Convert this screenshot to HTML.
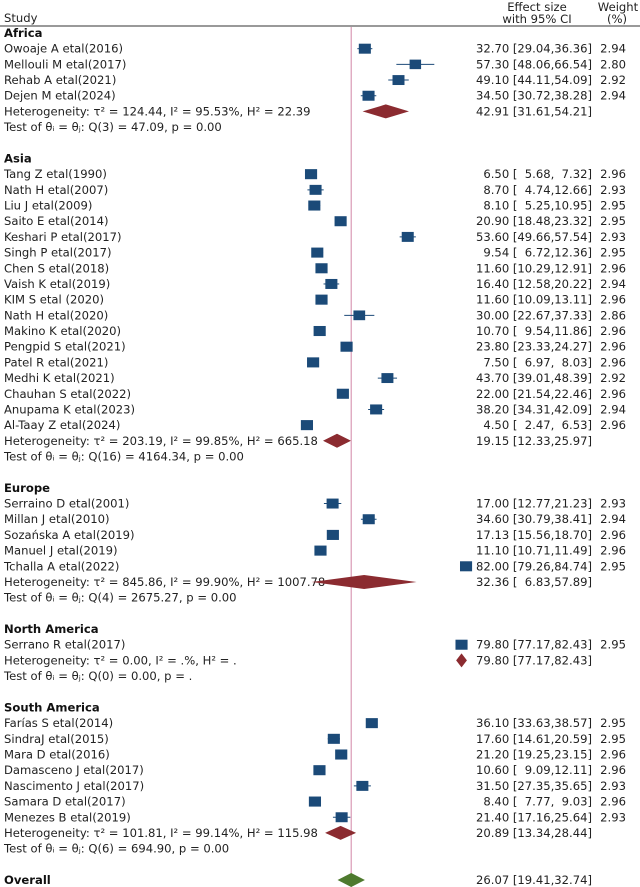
<!DOCTYPE html>
<html><head><meta charset="utf-8">
<style>
html,body{margin:0;padding:0;background:#fff;}
svg{display:block;font-family:"DejaVu Sans","Liberation Sans",sans-serif;font-size:11.6px;}
</style></head>
<body>
<svg id="plot" width="640" height="887" viewBox="0 0 640 887" xmlns="http://www.w3.org/2000/svg">
<text x="4" y="22" fill="#222">Study</text>
<text x="537" y="11" text-anchor="middle" fill="#222">Effect size</text>
<text x="537" y="23" text-anchor="middle" fill="#222">with 95% CI</text>
<text x="618" y="11" text-anchor="middle" fill="#222">Weight</text>
<text x="617" y="23" text-anchor="middle" fill="#222">(%)</text>
<line x1="0" y1="26" x2="640" y2="26" stroke="#333" stroke-width="1"/>
</svg>
<script>
const groupNames = ["Africa","Asia","Europe","North America","South America"];
const studyNames = [
 ["Owoaje A etal(2016)","Mellouli M etal(2017)","Rehab A etal(2021)","Dejen M etal(2024)"],
 ["Tang Z etal(1990)","Nath H etal(2007)","Liu J etal(2009)","Saito E etal(2014)","Keshari P etal(2017)","Singh P etal(2017)","Chen S etal(2018)","Vaish K etal(2019)","KIM S etal (2020)","Nath H etal(2020)","Makino K etal(2020)","Pengpid S etal(2021)","Patel R etal(2021)","Medhi K etal(2021)","Chauhan S etal(2022)","Anupama K etal(2023)","Al-Taay Z etal(2024)"],
 ["Serraino D etal(2001)","Millan J etal(2010)","Sozańska A etal(2019)","Manuel J etal(2019)","Tchalla A etal(2022)"],
 ["Serrano R etal(2017)"],
 ["Farías S etal(2014)","SindraJ etal(2015)","Mara D etal(2016)","Damasceno J etal(2017)","Nascimento J etal(2017)","Samara D etal(2017)","Menezes B etal(2019)"]
];
const estimates = [
 [32.70,57.30,49.10,34.50],
 [6.50,8.70,8.10,20.90,53.60,9.54,11.60,16.40,11.60,30.00,10.70,23.80,7.50,43.70,22.00,38.20,4.50],
 [17.00,34.60,17.13,11.10,82.00],
 [79.80],
 [36.10,17.60,21.20,10.60,31.50,8.40,21.40]
];
const lowers = [
 [29.04,48.06,44.11,30.72],
 [5.68,4.74,5.25,18.48,49.66,6.72,10.29,12.58,10.09,22.67,9.54,23.33,6.97,39.01,21.54,34.31,2.47],
 [12.77,30.79,15.56,10.71,79.26],
 [77.17],
 [33.63,14.61,19.25,9.09,27.35,7.77,17.16]
];
const uppers = [
 [36.36,66.54,54.09,38.28],
 [7.32,12.66,10.95,23.32,57.54,12.36,12.91,20.22,13.11,37.33,11.86,24.27,8.03,48.39,22.46,42.09,6.53],
 [21.23,38.41,18.70,11.49,84.74],
 [82.43],
 [38.57,20.59,23.15,12.11,35.65,9.03,25.64]
];
const weights = [
 [2.94,2.80,2.92,2.94],
 [2.96,2.93,2.95,2.95,2.93,2.95,2.96,2.94,2.96,2.86,2.96,2.96,2.96,2.92,2.96,2.94,2.96],
 [2.93,2.94,2.96,2.96,2.95],
 [2.95],
 [2.95,2.95,2.96,2.96,2.93,2.96,2.93]
];
const pooledEst = [42.91,19.15,32.36,79.80,20.89];
const pooledLo = [31.61,12.33,6.83,77.17,13.34];
const pooledHi = [54.21,25.97,57.89,82.43,28.44];
const hetText = [
 "Heterogeneity: τ² = 124.44, I² = 95.53%, H² = 22.39",
 "Heterogeneity: τ² = 203.19, I² = 99.85%, H² = 665.18",
 "Heterogeneity: τ² = 845.86, I² = 99.90%, H² = 1007.78",
 "Heterogeneity: τ² = 0.00, I² = .%, H² = .",
 "Heterogeneity: τ² = 101.81, I² = 99.14%, H² = 115.98"
];
const testText = [
 "Test of θᵢ = θⱼ: Q(3) = 47.09, p = 0.00",
 "Test of θᵢ = θⱼ: Q(16) = 4164.34, p = 0.00",
 "Test of θᵢ = θⱼ: Q(4) = 2675.27, p = 0.00",
 "Test of θᵢ = θⱼ: Q(0) = 0.00, p = .",
 "Test of θᵢ = θⱼ: Q(6) = 694.90, p = 0.00"
];
const overall = [26.07,19.41,32.74];

const svg = document.getElementById('plot');
const NS = 'http://www.w3.org/2000/svg';
const xs = v => 297.7 + 2.053 * v;
const ys = i => 33 + 15.685 * i;
function mk(tag, attrs, txt){
  const e = document.createElementNS(NS, tag);
  for (const k in attrs) e.setAttribute(k, attrs[k]);
  if (txt !== undefined) e.textContent = txt;
  svg.appendChild(e);
  return e;
}
function f2(v){ return v.toFixed(2); }
function pad(v){ const s=f2(v); return s.length<5 ? '\u2007'+s : s; }
function ciStr(e,l,h){ return f2(e)+' ['+pad(l)+','+pad(h)+']'; }

const ref = mk('line',{x1:xs(overall[0]),y1:27,x2:xs(overall[0]),y2:887,stroke:'#d99ab5','stroke-width':1.2});



let row = 0;
for (let g=0; g<groupNames.length; g++){
  const h = mk('text',{x:4,y:ys(row)+4,'font-weight':'bold',fill:'#111'},groupNames[g]);
  
  
  row++;
  for (let s=0; s<studyNames[g].length; s++){
    const y = ys(row);
    const t = mk('text',{x:4,y:y+4,fill:'#222'},studyNames[g][s]);
    
    
    const ci = mk('line',{x1:xs(lowers[g][s]),y1:y,x2:xs(uppers[g][s]),y2:y,stroke:'#1b4a78','stroke-width':1});
    
    
    const w = 4.1*weights[g][s], hh = 3.4*weights[g][s];
    const sq = mk('rect',{x:xs(estimates[g][s])-w/2,y:y-hh/2,width:w,height:hh,fill:'#1b4a78'});
    
    
    const et = mk('text',{x:592,y:y+4,'text-anchor':'end',fill:'#222'},ciStr(estimates[g][s],lowers[g][s],uppers[g][s]));
    
    
    const wt = mk('text',{x:626,y:y+4,'text-anchor':'end',fill:'#222'},f2(weights[g][s]));
    
    
    row++;
  }
  const y = ys(row);
  const ht = mk('text',{x:4,y:y+4,fill:'#222'},hetText[g]);
  
  
  const lo = xs(pooledLo[g]), hi = xs(pooledHi[g]), c = xs(pooledEst[g]);
  const d = mk('polygon',{points:`${lo},${y} ${c},${y-7} ${hi},${y} ${c},${y+7}`,fill:'#8b2b30'});
  
  
  const pt = mk('text',{x:592,y:y+4,'text-anchor':'end',fill:'#222'},ciStr(pooledEst[g],pooledLo[g],pooledHi[g]));
  
  
  row++;
  const tt = mk('text',{x:4,y:ys(row)+4,fill:'#222'},testText[g]);
  
  
  row += 2;
}
const oy = ys(row);
const ol = mk('text',{x:4,y:oy+4,'font-weight':'bold',fill:'#111'},'Overall');


const od = mk('polygon',{points:`${xs(overall[1])},${oy} ${xs(overall[0])},${oy-7} ${xs(overall[2])},${oy} ${xs(overall[0])},${oy+7}`,fill:'#4e7a2e'});


const ot = mk('text',{x:592,y:oy+4,'text-anchor':'end',fill:'#222'},ciStr(overall[0],overall[1],overall[2]));


</script>
</body></html>
